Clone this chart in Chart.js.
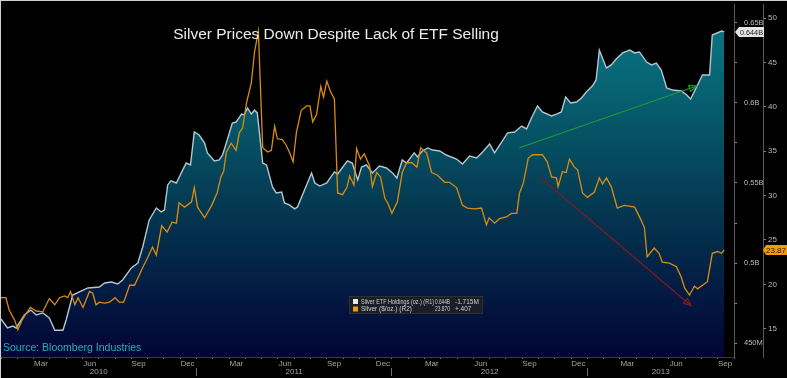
<!DOCTYPE html>
<html><head><meta charset="utf-8">
<script src="https://cdn.jsdelivr.net/npm/chart.js@4/dist/chart.umd.min.js"></script>
<style>html,body{margin:0;padding:0;background:#000;overflow:hidden}canvas{display:block}</style>
</head><body><canvas id="c" width="787" height="378"></canvas>
<script>
// ---------------- DATA ----------------
const etfDates = ['2010-01-01','2010-01-13','2010-01-23','2010-01-29','2010-02-14','2010-02-26','2010-03-06','2010-03-18','2010-03-30','2010-04-10','2010-04-25','2010-05-01','2010-05-13','2010-06-11','2010-07-02','2010-07-12','2010-07-24','2010-08-06','2010-08-15','2010-09-01','2010-09-13','2010-09-22','2010-10-04','2010-10-17','2010-10-26','2010-11-02','2010-11-08','2010-11-14','2010-11-24','2010-12-12','2010-12-20','2010-12-27','2011-01-06','2011-01-16','2011-01-21','2011-02-04','2011-02-13','2011-02-19','2011-02-26','2011-03-07','2011-03-14','2011-03-24','2011-03-29','2011-04-05','2011-04-12','2011-04-18','2011-04-23','2011-05-03','2011-05-10','2011-05-21','2011-05-28','2011-06-08','2011-06-13','2011-06-22','2011-07-02','2011-07-07','2011-07-20','2011-08-03','2011-08-09','2011-08-18','2011-08-31','2011-09-15','2011-09-21','2011-10-09','2011-10-18','2011-10-28','2011-11-05','2011-11-14','2011-11-25','2011-12-08','2011-12-21','2012-01-02','2012-01-10','2012-01-20','2012-01-28','2012-02-12','2012-02-18','2012-02-27','2012-03-07','2012-03-16','2012-03-29','2012-04-11','2012-04-30','2012-05-11','2012-05-24','2012-06-07','2012-06-18','2012-07-01','2012-07-10','2012-07-23','2012-08-04','2012-08-17','2012-08-30','2012-09-09','2012-09-18','2012-09-29','2012-10-08','2012-10-25','2012-11-04','2012-11-13','2012-11-21','2012-11-30','2012-12-11','2012-12-20','2012-12-29','2013-01-10','2013-01-17','2013-01-23','2013-02-06','2013-02-15','2013-02-24','2013-03-06','2013-03-19','2013-03-28','2013-04-07','2013-04-20','2013-04-29','2013-05-08','2013-05-17','2013-05-27','2013-06-08','2013-06-24','2013-07-04','2013-07-11','2013-07-24','2013-08-03','2013-08-16','2013-08-21','2013-09-08','2013-09-13'];
// Silver ETF holdings, millions of oz (R1)
const etfHoldings = [465,459.4,460.6,459.4,467.5,470.6,467.5,468.8,465.6,458,458,464.4,480,484.4,485,487.5,488.1,486.9,489.4,496.9,500,510,526.9,534.4,531.9,533.1,548.8,551.3,550,562.5,561.3,581.9,580,575,568.8,563.8,564.4,567.5,575,587.5,588.1,593.1,592.5,596.9,593.1,595.6,593.8,562.5,561.3,547.5,543.8,544.4,537.5,536.3,533.8,535,545.6,556.3,550,548.1,550,556.9,555.6,563.8,562.5,551.9,560,561.3,556.3,560.6,559.4,556.3,553.1,564.4,562.5,568.8,566.3,570,571.9,570.6,570,567.5,565,561.9,566.9,565.6,569.4,574.4,568.8,575.6,581.3,581.9,585.6,583.8,590.6,598.1,594.4,591.9,593.1,594.4,603.8,600,600.6,603.1,606.9,610.6,614.4,633.1,621.9,623.8,627.5,631.3,633.1,631.3,631.9,625.6,623.8,625,620.6,609.4,608.1,607.5,605,602.5,611.3,617.5,617.5,642.5,645,644.4];

const silverDates = ['2010-01-01','2010-01-10','2010-01-16','2010-01-26','2010-02-02','2010-02-10','2010-02-16','2010-02-25','2010-03-06','2010-03-18','2010-03-30','2010-04-10','2010-04-19','2010-04-28','2010-05-04','2010-05-09','2010-05-17','2010-05-23','2010-06-02','2010-06-14','2010-06-20','2010-06-26','2010-07-02','2010-07-12','2010-07-21','2010-07-31','2010-08-09','2010-08-17','2010-08-28','2010-09-07','2010-09-22','2010-10-01','2010-10-10','2010-10-17','2010-10-27','2010-11-07','2010-11-16','2010-11-24','2010-11-29','2010-12-09','2010-12-22','2010-12-27','2011-01-03','2011-01-16','2011-01-29','2011-02-09','2011-02-16','2011-02-21','2011-02-26','2011-03-05','2011-03-14','2011-03-20','2011-03-26','2011-04-03','2011-04-12','2011-04-18','2011-04-25','2011-05-03','2011-05-12','2011-05-19','2011-05-25','2011-05-30','2011-06-09','2011-06-16','2011-06-22','2011-06-29','2011-07-05','2011-07-14','2011-07-24','2011-07-30','2011-08-05','2011-08-12','2011-08-20','2011-08-25','2011-08-31','2011-09-08','2011-09-15','2011-09-21','2011-09-30','2011-10-08','2011-10-13','2011-10-21','2011-10-26','2011-11-03','2011-11-10','2011-11-20','2011-11-25','2011-12-03','2011-12-10','2011-12-18','2011-12-23','2011-12-31','2012-01-11','2012-01-20','2012-01-28','2012-02-08','2012-02-17','2012-02-24','2012-03-05','2012-03-14','2012-03-25','2012-04-08','2012-04-17','2012-04-30','2012-05-11','2012-05-20','2012-06-03','2012-06-16','2012-06-25','2012-06-30','2012-07-10','2012-07-19','2012-08-02','2012-08-11','2012-08-21','2012-08-26','2012-09-03','2012-09-12','2012-09-20','2012-10-08','2012-10-17','2012-10-25','2012-11-04','2012-11-07','2012-11-15','2012-11-22','2012-11-28','2012-12-07','2012-12-13','2012-12-22','2013-01-01','2013-01-14','2013-01-23','2013-01-29','2013-02-06','2013-02-15','2013-02-26','2013-03-09','2013-03-28','2013-04-07','2013-04-16','2013-04-21','2013-05-04','2013-05-13','2013-05-19','2013-06-02','2013-06-15','2013-06-24','2013-06-30','2013-07-09','2013-07-18','2013-07-24','2013-08-12','2013-08-21','2013-08-31','2013-09-08','2013-09-13'];
// Silver price, $/oz (R2)
const silverPrices = [18.5,18.5,17.1,16.0,14.9,16.0,16.6,17.4,17.0,16.9,18.4,17.7,18.5,18.7,18.5,19.2,17.7,18.5,17.4,19.2,19.0,17.7,18.0,17.9,18.0,18.5,18.0,18.0,19.9,19.9,21.9,23.0,24.2,23.3,26.6,25.9,27.0,26.9,29.2,28.7,29.3,30.9,28.7,27.5,28.9,30.3,32.1,32.7,34.9,35.9,35.1,37.1,37.6,40.4,42.7,46.2,48.5,35.4,34.9,35.1,37.8,36.4,36.3,35.7,34.9,33.8,37.1,39.6,40.1,40.1,38.3,39.1,42.3,41.1,42.9,41.7,40.9,30.3,30.1,30.9,32.2,31.2,35.3,34.1,34.7,33.3,31.0,32.6,32.1,29.7,29.2,28.0,29.3,32.6,33.7,33.7,33.2,35.4,34.8,32.6,32.3,31.5,31.5,30.9,28.9,28.6,28.5,28.6,26.7,27.5,26.9,27.4,27.6,28.0,28.0,30.3,31.4,34.2,34.6,34.6,33.8,32.1,32.0,31.0,32.7,32.6,34.1,33.2,32.9,30.3,29.8,30.4,32.0,31.3,32.0,31.0,28.6,28.9,28.7,27.6,26.4,23.1,24.1,23.5,22.5,22.4,22.0,20.8,19.6,18.8,19.8,19.5,20.3,23.5,23.7,23.5,23.87];

const monthNames = ['Jan','Feb','Mar','Apr','May','Jun','Jul','Aug','Sep','Oct','Nov','Dec'];
const monthLabelDates = ['2010-03','2010-06','2010-09','2010-12','2011-03','2011-06','2011-09','2011-12','2012-03','2012-06','2012-09','2012-12','2013-03','2013-06','2013-09'];
const yearLabels = ['2010','2011','2012','2013'];
const yearLabelDates = ['2010-07-01','2011-07-01','2012-07-01','2013-05-16'];
const yearDividerDates = ['2011-01-01','2012-01-01','2013-01-01'];
const r1TickValues = [450,475,500,525,550,575,600,625,650];
const r1TickLabels = ['450M','','0.5B','','0.55B','','0.6B','','0.65B'];
const r2TickValues = [15,20,25,30,35,40,45,50];
const r2TickLabels = ['15','20','25','30','35','40','45','50'];
const greenArrowDates = ['2012-08-26','2013-07-22'];
const greenArrowValues = [572, 610.6];
const redArrowDates = ['2012-10-03','2013-07-12'];
const redArrowValues = [32.1, 17.6];
const titleText = 'Silver Prices Down Despite Lack of ETF Selling';
const sourceText = 'Source: Bloomberg Industries';
const legendRows = [
  ['Silver ETF Holdings (oz.) (R1)', '0.644B', '-1.715M'],
  ['Silver ($/oz.) (R2)', '23.870', '+.407']
];
const lastEtfTag = '0.644B';
const lastSilverTag = '23.87';

// ---------------- HELPERS ----------------
function toM(s){
  const p = s.split('-').map(Number);
  return (p[0]-2010)*12 + (p[1]-1) + ((p[2]||1)-1)/30;
}
const FONT = '"Liberation Sans", Arial, sans-serif';
const etfPts = etfDates.map((d,i)=>({x:toM(d), y:etfHoldings[i]}));
const silverPts = silverDates.map((d,i)=>({x:toM(d), y:silverPrices[i]}));
const monthLabelPos = monthLabelDates.map(d=>toM(d)+0.45);
const xTickVals = [];
for(let m=0;m<=45;m++) xTickVals.push(m);
monthLabelPos.forEach(v=>xTickVals.push(v));
xTickVals.sort((a,b)=>a-b);
const yearPos = yearLabelDates.map(toM);
const yearDiv = yearDividerDates.map(toM);
const x2TickVals = yearPos.concat(yearDiv).sort((a,b)=>a-b);

function noPad(s){ s.paddingTop=0; s.paddingBottom=0; s.paddingLeft=0; s.paddingRight=0; }

function arrow(ctx, x1,y1,x2,y2,color){
  ctx.save();
  ctx.strokeStyle=color; ctx.fillStyle=color; ctx.lineWidth=1.2;
  ctx.beginPath(); ctx.moveTo(x1,y1); ctx.lineTo(x2,y2); ctx.stroke();
  const a=Math.atan2(y2-y1,x2-x1), L=8, w=0.4;
  ctx.beginPath();
  ctx.moveTo(x2,y2);
  ctx.lineTo(x2-L*Math.cos(a-w), y2-L*Math.sin(a-w));
  ctx.lineTo(x2-L*Math.cos(a+w), y2-L*Math.sin(a+w));
  ctx.closePath(); ctx.stroke();
  ctx.restore();
}

const overlay = {
  id:'overlay',
  afterDatasetsDraw(chart){
    const {ctx, scales:{x,y1,y2}} = chart;
    arrow(ctx, x.getPixelForValue(toM(greenArrowDates[0])), y1.getPixelForValue(greenArrowValues[0]),
               x.getPixelForValue(toM(greenArrowDates[1])), y1.getPixelForValue(greenArrowValues[1]), '#1c9a34');
    arrow(ctx, x.getPixelForValue(toM(redArrowDates[0])), y2.getPixelForValue(redArrowValues[0]),
               x.getPixelForValue(toM(redArrowDates[1])), y2.getPixelForValue(redArrowValues[1]), '#7e1a26');
  },
  afterDraw(chart){
    const {ctx, scales:{x,y1,y2}} = chart;
    ctx.save();
    // title
    ctx.font = '15.5px '+FONT; ctx.fillStyle='#ececec'; ctx.textAlign='center'; ctx.textBaseline='alphabetic';
    ctx.fillText(titleText, 336, 39);
    // source
    ctx.font = '10.5px '+FONT; ctx.fillStyle='#27aec2'; ctx.textAlign='left';
    ctx.fillText(sourceText, 3, 351);
    // legend
    const lx=349, ly=296, lw=134, lh=18;
    ctx.fillStyle='#1b1e24'; ctx.fillRect(lx,ly,lw,lh);
    ctx.strokeStyle='#2c3038'; ctx.lineWidth=1; ctx.strokeRect(lx+0.5,ly+0.5,lw-1,lh-1);
    const cols=['#e8e8e8','#f29a10'];
    ctx.font='6.5px '+FONT; ctx.textBaseline='middle';
    legendRows.forEach((r,i)=>{
      const yy = ly+5.5+i*7.5;
      ctx.fillStyle=cols[i]; ctx.fillRect(lx+4, yy-2.5, 5, 5);
      ctx.fillStyle='#cfcfcf'; ctx.textAlign='left';
      ctx.fillText(r[0], lx+12, yy+0.5, 73);
      ctx.textAlign='right'; ctx.fillText(r[1], lx+101, yy+0.5, 15);
      ctx.textAlign='left'; ctx.fillText(r[2], lx+106, yy+0.5, 24);
    });
    // last-value tags
    const ty = y1.getPixelForValue(etfHoldings[etfHoldings.length-1]);
    ctx.fillStyle='#e4e4e4';
    ctx.beginPath(); ctx.moveTo(735,ty); ctx.lineTo(739,ty-5); ctx.lineTo(764,ty-5); ctx.lineTo(764,ty+5); ctx.lineTo(739,ty+5); ctx.closePath(); ctx.fill();
    ctx.fillStyle='#1a1a1a'; ctx.font='8px '+FONT; ctx.textAlign='left'; ctx.textBaseline='middle';
    ctx.fillText(lastEtfTag, 740, ty+0.5, 23);
    const sy = y2.getPixelForValue(silverPrices[silverPrices.length-1]);
    ctx.fillStyle='#f39a0c';
    ctx.beginPath(); ctx.moveTo(763,sy); ctx.lineTo(766,sy-5); ctx.lineTo(787,sy-5); ctx.lineTo(787,sy+5); ctx.lineTo(766,sy+5); ctx.closePath(); ctx.fill();
    ctx.fillStyle='#2a1600'; ctx.fillText(lastSilverTag, 766, sy+0.5, 21);
    // thin light frame on top and left edges (as in the reference screenshot)
    ctx.fillStyle='#cfcfcf'; ctx.fillRect(0,0,chart.width,1); ctx.fillRect(0,0,1,chart.height);
    ctx.restore();
  }
};

const bgPlugin = {
  id:'bg',
  beforeDraw(chart){ const c=chart.ctx; c.save(); c.fillStyle='#000'; c.fillRect(0,0,chart.width,chart.height); c.restore(); }
};

new Chart(document.getElementById('c'), {
  type:'line',
  data:{ datasets:[
    { label:'Silver ETF Holdings (oz.) (R1)', data:etfPts, yAxisID:'y1', xAxisID:'x',
      borderColor:'#b4c6d0', borderWidth:1.4, pointRadius:0, tension:0, fill:'start', order:2,
      backgroundColor:(c)=>{ const ca=c.chart.chartArea; if(!ca) return 'rgba(0,0,0,0)';
        const g=c.chart.ctx.createLinearGradient(0,ca.top,0,ca.bottom);
        g.addColorStop(0,'#0a7682'); g.addColorStop(0.12,'#08707d'); g.addColorStop(0.35,'#065567');
        g.addColorStop(0.6,'#04354f'); g.addColorStop(0.82,'#031a42'); g.addColorStop(1,'#020533');
        return g; } },
    { label:'Silver ($/oz.) (R2)', data:silverPts, yAxisID:'y2', xAxisID:'x',
      borderColor:'#d98c12', borderWidth:1.3, pointRadius:0, tension:0, fill:false, order:1 }
  ]},
  options:{
    responsive:false, animation:false, devicePixelRatio:1,
    layout:{ padding:{left:1, top:4, right:0, bottom:0} },
    plugins:{ legend:{display:false}, title:{display:false}, tooltip:{enabled:false} },
    scales:{
      x:{ type:'linear', position:'bottom', weight:0, min:0, max:45,
        afterBuildTicks:s=>{ s.ticks = xTickVals.map(v=>({value:v})); },
        afterFit:s=>{ s.height=11; noPad(s); },
        grid:{ display:true, drawOnChartArea:false, tickLength:2,
          tickColor:c=> (c.tick && c.tick.label) ? 'rgba(0,0,0,0)' : '#777' },
        border:{ display:true, color:'#3a3a3a' },
        ticks:{ autoSkip:false, maxRotation:0, padding:0, color:'#a4a4a4', font:{size:8, family:FONT},
          callback:(v)=>{ const i = monthLabelPos.findIndex(p=>Math.abs(p-v)<1e-6); return i<0 ? '' : monthNames[Number(monthLabelDates[i].split('-')[1])-1]; } } },
      x2:{ type:'linear', position:'bottom', weight:1, min:0, max:45,
        afterBuildTicks:s=>{ s.ticks = x2TickVals.map(v=>({value:v})); },
        afterFit:s=>{ s.height=10; noPad(s); },
        grid:{ display:true, drawOnChartArea:false, tickLength:8,
          tickColor:c=> (c.tick && c.tick.label) ? 'rgba(0,0,0,0)' : '#6a6a6a' },
        border:{ display:false },
        ticks:{ autoSkip:false, maxRotation:0, padding:-9, color:'#a4a4a4', font:{size:8, family:FONT},
          callback:(v)=>{ const i = yearPos.findIndex(p=>Math.abs(p-v)<1e-6); return i<0 ? '' : yearLabels[i]; } } },
      y1:{ type:'linear', position:'right', weight:0, min:441.25, max:661.875,
        afterBuildTicks:s=>{ s.ticks = r1TickValues.map(v=>({value:v})); },
        afterFit:s=>{ s.width=29; noPad(s); },
        grid:{ drawOnChartArea:false, tickLength:3, tickColor:'#888' },
        border:{ color:'#5a5a5a' },
        ticks:{ padding:7, color:'#b8b8b8', font:{size:7.5, family:FONT},
          callback:(v)=>{ const i=r1TickValues.indexOf(v); return i<0?'':r1TickLabels[i]; } } },
      y2:{ type:'linear', position:'right', weight:1, min:11.82, max:51.58,
        afterBuildTicks:s=>{ s.ticks = r2TickValues.map(v=>({value:v})); },
        afterFit:s=>{ s.width=24; noPad(s); },
        grid:{ drawOnChartArea:false, tickLength:3, tickColor:'#888' },
        border:{ color:'#5a5a5a' },
        ticks:{ padding:2, color:'#b8b8b8', font:{size:8, family:FONT},
          callback:(v)=>{ const i=r2TickValues.indexOf(v); return i<0?'':r2TickLabels[i]; } } }
    }
  },
  plugins:[bgPlugin, overlay]
});
</script>
</body></html>
